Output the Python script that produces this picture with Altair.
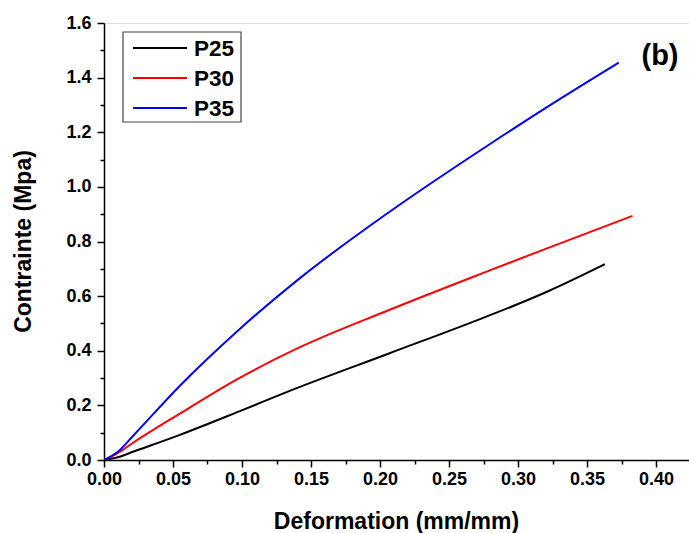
import altair as alt
import pandas as pd

# --- data ---
p25_x = [0.0, 0.010, 0.021, 0.055, 0.098, 0.135, 0.207, 0.272, 0.300, 0.321, 0.363]
p25_y = [0.0, 0.010, 0.030, 0.092, 0.178, 0.254, 0.391, 0.515, 0.571, 0.616, 0.717]

p30_x = [0.0, 0.010, 0.021, 0.055, 0.098, 0.142, 0.207, 0.280, 0.321, 0.383]
p30_y = [0.0, 0.025, 0.063, 0.170, 0.300, 0.413, 0.550, 0.695, 0.775, 0.894]

p35_x = [0.0, 0.010, 0.021, 0.055, 0.098, 0.142, 0.207, 0.280, 0.321, 0.373]
p35_y = [0.0, 0.030, 0.088, 0.272, 0.478, 0.666, 0.909, 1.158, 1.292, 1.455]

series_names = ["P25", "P30", "P35"]
series_colors = ["#000000", "#ff0000", "#0000ff"]

x_major = [0.00, 0.05, 0.10, 0.15, 0.20, 0.25, 0.30, 0.35, 0.40]
x_minor = [0.025, 0.075, 0.125, 0.175, 0.225, 0.275, 0.325, 0.375]
y_major = [0.0, 0.2, 0.4, 0.6, 0.8, 1.0, 1.2, 1.4, 1.6]
y_minor = [0.1, 0.3, 0.5, 0.7, 0.9, 1.1, 1.3, 1.5]

rows = []
for name, xs, ys in zip(series_names, [p25_x, p30_x, p35_x], [p25_y, p30_y, p35_y]):
    for i, (a, b) in enumerate(zip(xs, ys)):
        rows.append({"series": name, "strain": a, "stress": b, "order": i})
df = pd.DataFrame(rows)
legend_df = pd.DataFrame({"series": series_names})

FONT = "Liberation Sans"
W, H = 585, 437
xscale = alt.Scale(domain=[0, 585 / 1380], nice=False, zero=False)
yscale = alt.Scale(domain=[0, 1.6], nice=False, zero=False)
cscale = alt.Scale(domain=series_names, range=series_colors)

base = alt.Chart(df)

lines = base.mark_line(strokeWidth=2, interpolate="monotone", clip=True).encode(
    x=alt.X("strain:Q", scale=xscale,
            axis=alt.Axis(orient="bottom", values=x_major, format=".2f", tickSize=7,
                          tickWidth=1.5, tickColor="black", domainColor="black",
                          domainWidth=1.5, labelFont=FONT, labelFontWeight="bold",
                          labelFontSize=18, labelColor="black", labelPadding=3,
                          labelFlush=False, grid=False, title="Deformation (mm/mm)",
                          titleFont=FONT, titleFontWeight="bold", titleFontSize=23,
                          titleColor="black", titleX=292, titleY=68,
                          titleBaseline="alphabetic")),
    y=alt.Y("stress:Q", scale=yscale,
            axis=alt.Axis(orient="left", values=y_major, format=".1f", tickSize=7,
                          tickWidth=1.5, tickColor="black", domainColor="black",
                          domainWidth=1.5, labelFont=FONT, labelFontWeight="bold",
                          labelFontSize=18, labelColor="black", labelPadding=6,
                          labelFlush=False, grid=False, title="Contrainte (Mpa)",
                          titleFont=FONT, titleFontWeight="bold", titleFontSize=23,
                          titleColor="black", titleX=-74, titleY=218,
                          titleBaseline="alphabetic")),
    color=alt.Color("series:N", scale=cscale, legend=None),
    order="order:O",
)

minor = base.mark_line(opacity=0).encode(
    x=alt.X("strain:Q", scale=xscale,
            axis=alt.Axis(values=x_minor, labels=False, tickSize=4, tickWidth=1.5,
                          tickColor="black", domain=False, grid=False, title=None,
                          orient="bottom")),
    y=alt.Y("stress:Q", scale=yscale,
            axis=alt.Axis(values=y_minor, labels=False, tickSize=4, tickWidth=1.5,
                          tickColor="black", domain=False, grid=False, title=None,
                          orient="left")),
    detail="series:N",
)

# legend (box + sample lines + labels)
leg_y = alt.Y("series:N", scale=alt.Scale(type="point", domain=series_names,
                                          range=[25, 85], padding=0), axis=None)
leg_box = alt.Chart(pd.DataFrame({"k": [0]})).mark_rect(
    fill="white", stroke="#444444", strokeWidth=1.2
).encode(x=alt.value(19), x2=alt.value(137), y=alt.value(9), y2=alt.value(99))
leg_lines = alt.Chart(legend_df).mark_rule(strokeWidth=2).encode(
    x=alt.value(29), x2=alt.value(83), y=leg_y,
    color=alt.Color("series:N", scale=cscale, legend=None),
)
leg_text = alt.Chart(legend_df).mark_text(
    font=FONT, fontWeight="bold", fontSize=22.5, color="black",
    align="left", baseline="middle", dy=1
).encode(x=alt.value(90), y=leg_y, text="series:N")
legend = alt.layer(leg_box, leg_lines, leg_text)

label_b = alt.Chart(pd.DataFrame({"t": ["(b)"]})).mark_text(
    font=FONT, fontWeight="bold", fontSize=29, color="black",
    align="center", baseline="middle"
).encode(text="t:N", x=alt.value(556), y=alt.value(33))

chart = alt.layer(minor, lines, legend, label_b).resolve_axis(
    x="independent", y="independent"
).resolve_scale(y="independent").properties(
    width=W, height=H,
    autosize=alt.AutoSizeParams(type="none"),
    padding={"left": 104, "top": 23, "right": 0, "bottom": 73},
).configure_view(stroke=None).configure(background="white")

chart.save("out.html", embed_options={"renderer": "svg", "actions": False})
